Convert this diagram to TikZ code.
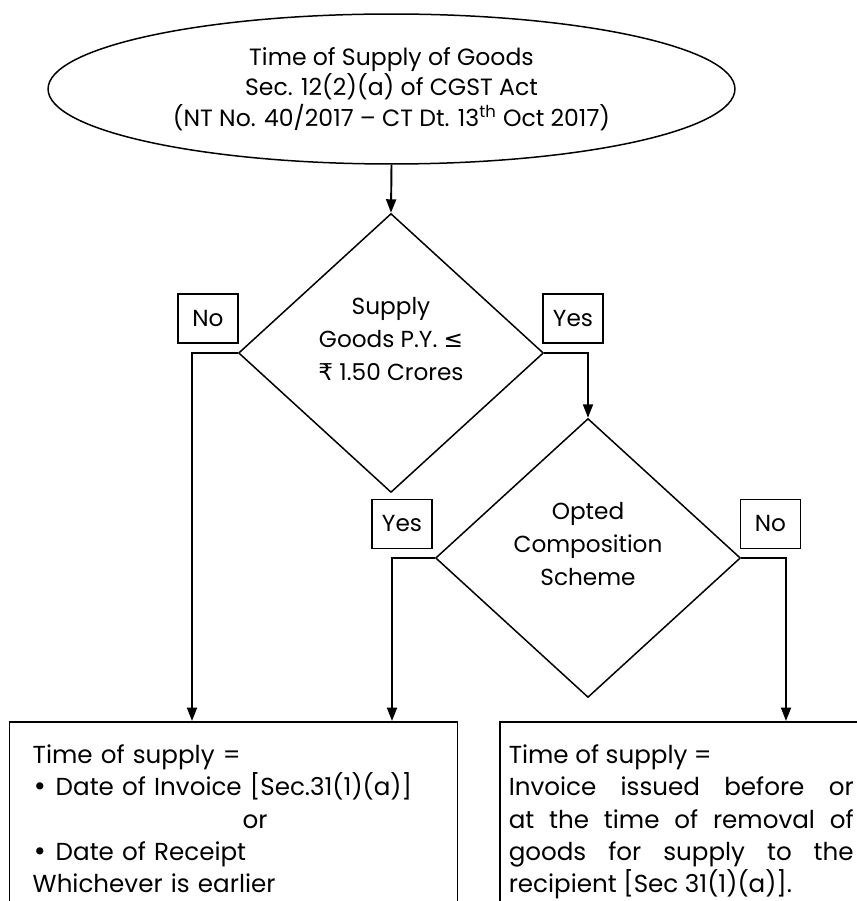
\documentclass[tikz,border=0pt]{standalone}
\usepackage{fontspec}
\setmainfont{Poppins}
\newfontfamily\symfont{DejaVu Sans}
\usetikzlibrary{arrows.meta,shapes.geometric}

\begin{document}
\begin{tikzpicture}[x=0.02cm,y=-0.02cm,>={Triangle[length=0.27cm,width=0.2cm]},line width=0.85pt,
  every node/.style={font=\fontsize{13.4pt}{17.5pt}\selectfont},
  oval/.style={draw,ellipse,minimum width=13.74cm,minimum height=3cm,inner sep=0pt,align=center},
  decision/.style={draw,diamond,minimum width=6.1cm,minimum height=5.58cm,inner sep=0pt},
  query/.style={align=center,font=\fontsize{13.2pt}{19pt}\selectfont},
  choice/.style={draw,minimum width=1.2cm,minimum height=0.98cm,inner sep=0pt,font=\fontsize{13.2pt}{16pt}\selectfont},
  outcome/.style={draw,anchor=north west,inner ysep=0.46cm,font=\fontsize{14pt}{18.4pt}\selectfont},
  flow/.style={->,line width=1.1pt}]
\useasboundingbox (0,0) rectangle (857,901);
\clip (0,0) rectangle (857,901);
\node[oval] (title) at (391.5,89) {Time of Supply of Goods\\Sec. 12(2)(a) of CGST Act\\(NT No. 40/2017 – CT Dt. 13\textsuperscript{th} Oct 2017)};
\node[decision] (d1) at (391,353) {};
\node[query] (q1) at (391,339) {Supply\\Goods P.Y. {\symfont ≤}\\{\symfont ₹} 1.50 Crores};
\node[decision] (d2) at (588,558) {};
\node[query] (q2) at (588,544) {Opted\\Composition\\Scheme};
\node[choice] (no1) at (208,318.5) {No};
\node[choice] (yes1) at (573,318.5) {Yes};
\node[choice] (yes2) at (402,524) {Yes};
\node[choice] (no2) at (770.5,524) {No};
\node[outcome,text width=8.04cm,inner xsep=0.46cm,align=left] (lbox) at (9,721) {Time of supply =\\\makebox[0.46cm][l]{{\symfont •}}Date of Invoice [Sec.31(1)(a)]\\\hspace*{4.2cm}or\\\makebox[0.46cm][l]{{\symfont •}}Date of Receipt\\Whichever is earlier};
\node[outcome,text width=6.9cm,inner xsep=0.18cm,align=justify] (rbox) at (499,721) {Time of supply =\par Invoice issued before or\linebreak at the time of removal of\linebreak goods for supply to the\linebreak recipient [Sec 31(1)(a)].};
\draw[flow] (title.south) -- (d1.north);
\draw[flow] (d1.west) -| (192,0 |- lbox.north);
\draw[flow] (d1.east) -| (d2.north);
\draw[flow] (d2.west) -| (392,0 |- lbox.north);
\draw[flow] (d2.east) -| (786,0 |- rbox.north);
\end{tikzpicture}
\end{document}
